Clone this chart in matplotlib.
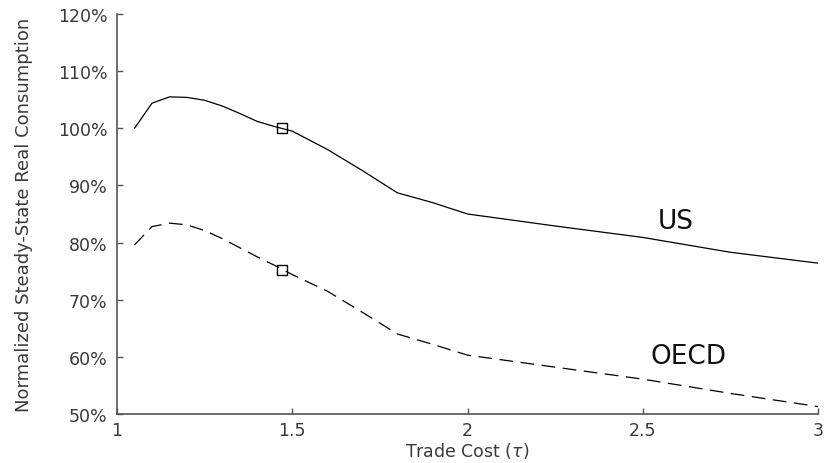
import matplotlib
matplotlib.use("Agg")
import matplotlib.pyplot as plt
from matplotlib.ticker import FuncFormatter

# Trade cost grid and normalized steady-state consumption (%)
tau = [1.05, 1.1, 1.15, 1.2, 1.25, 1.3, 1.35, 1.4, 1.45, 1.5,
       1.6, 1.7, 1.8, 1.9, 2.0, 2.25, 2.5, 2.75, 3.0]
us = [100.0, 104.4, 105.5, 105.4, 104.9, 103.9, 102.6, 101.2, 100.3, 99.5,
      96.3, 92.6, 88.7, 87.0, 85.0, 82.9, 80.9, 78.3, 76.4]
oecd = [79.6, 82.8, 83.4, 83.1, 82.1, 80.7, 79.1, 77.5, 76.0, 74.4,
        71.5, 67.8, 64.0, 62.2, 60.3, 58.2, 56.1, 53.6, 51.3]

# Baseline (calibrated) trade cost
tau_base = 1.471
us_base = 100.0
oecd_base = 75.2

xticks = [1, 1.5, 2, 2.5, 3]
yticks = [50, 60, 70, 80, 90, 100, 110, 120]

fig = plt.figure(figsize=(8.28, 4.64), dpi=100)
ax = fig.add_axes([0.1413, 0.1056, 0.8467, 0.8621])

ax.plot(tau, us, color='black', lw=0.9)
ax.plot(tau, oecd, color='black', lw=0.9, dashes=(11, 6))
ax.plot([tau_base], [us_base], marker='s', ms=6.5, mfc='none', mec='black', mew=1)
ax.plot([tau_base], [oecd_base], marker='s', ms=6.5, mfc='none', mec='black', mew=1)

ax.text(2.595, 83.8, 'US', fontsize=19, ha='center', va='center', color='#111111')
ax.text(2.63, 60.2, 'OECD', fontsize=19, ha='center', va='center', color='#111111')

ax.set_xlim(1, 3)
ax.set_ylim(50, 120)
ax.set_xticks(xticks)
ax.set_xticklabels([f'{t:g}' for t in xticks])
ax.set_yticks(yticks)
ax.yaxis.set_major_formatter(FuncFormatter(lambda v, p: f'{v:.0f}%'))

for side in ['top', 'right']:
    ax.spines[side].set_visible(False)
for side in ['left', 'bottom']:
    ax.spines[side].set_color('#555555')
    ax.spines[side].set_linewidth(1.2)

ax.tick_params(direction='in', length=4, width=1, color='#555555',
               labelcolor='#3a3a3a', labelsize=12.5)
ax.tick_params(axis='y', pad=7)
ax.tick_params(axis='x', pad=5)

ax.set_xlabel(r'Trade Cost ($\tau$)', fontsize=12.5, color='#3a3a3a', labelpad=1)
ax.set_ylabel('Normalized Steady-State Real Consumption', fontsize=13,
              color='#3a3a3a', labelpad=18)

fig.savefig('out.png', dpi=100)
